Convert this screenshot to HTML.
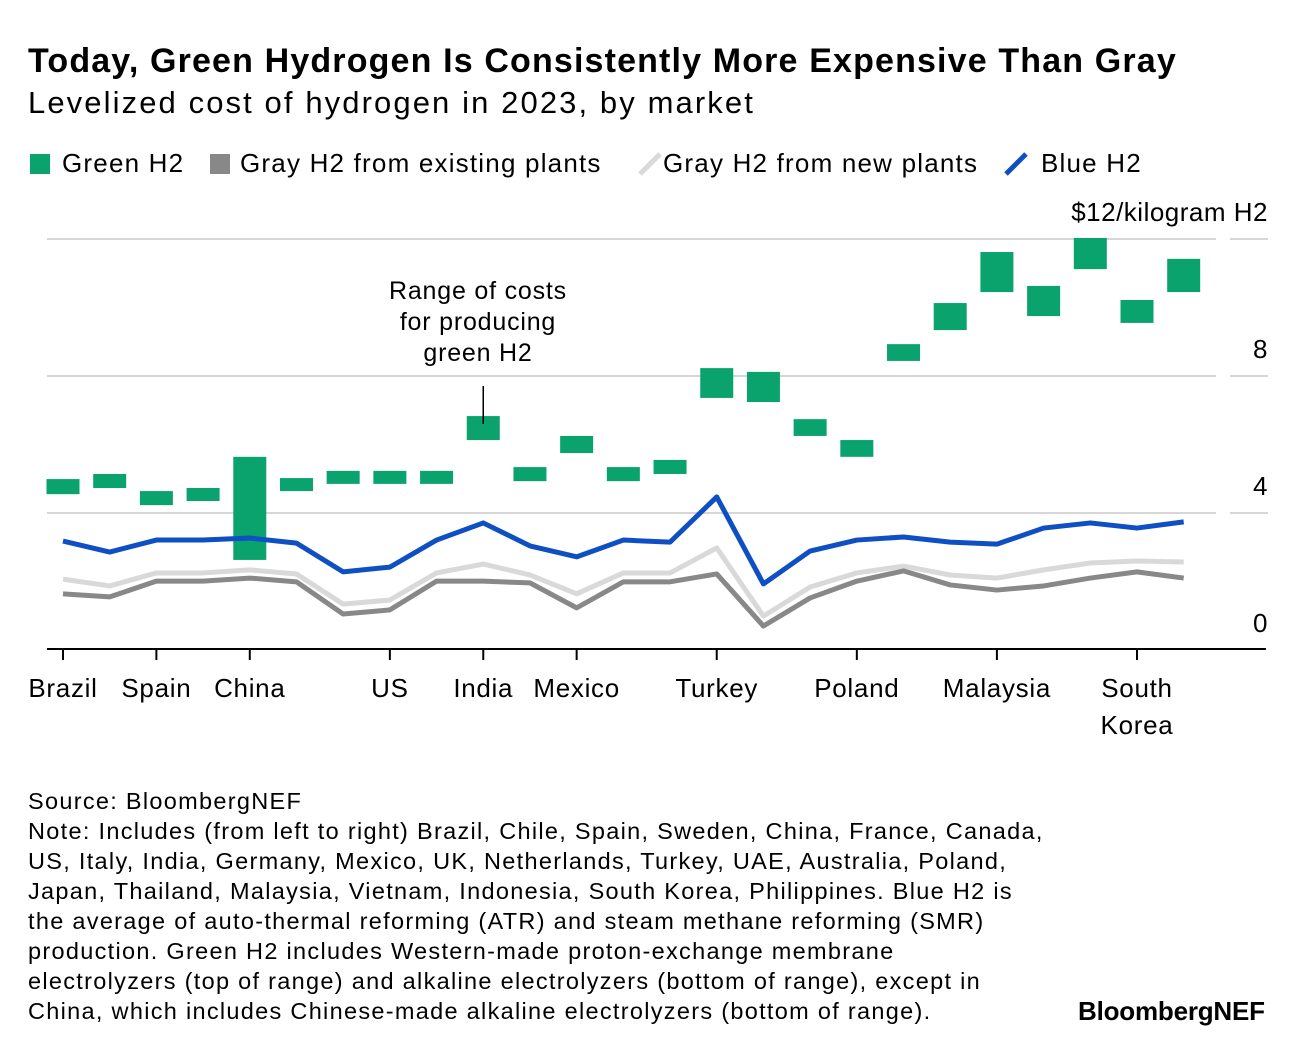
<!DOCTYPE html>
<html><head><meta charset="utf-8">
<style>
body{margin:0;background:#fff;font-family:"Liberation Sans",sans-serif;color:#000;}
#wrap{position:relative;width:1296px;height:1050px;overflow:hidden;}
.t{position:absolute;white-space:nowrap;}
</style></head>
<body><div id="wrap">
<div class="t" style="left:28px;top:42px;font-size:34px;font-weight:bold;letter-spacing:1.15px">Today, Green Hydrogen Is Consistently More Expensive Than Gray</div>
<div class="t" style="left:28px;top:85px;font-size:31px;letter-spacing:2.1px">Levelized cost of hydrogen in 2023, by market</div>
<div style="position:absolute;left:30px;top:148px;font-size:26px;height:34px;letter-spacing:1.2px">
 <span style="position:absolute;left:0;top:6px;width:20px;height:20px;background:#0aa36e"></span>
 <span class="t" style="left:32px;top:0">Green H2</span>
 <span style="position:absolute;left:180px;top:6px;width:20px;height:20px;background:#888"></span>
 <span class="t" style="left:210px;top:0">Gray H2 from existing plants</span>
 <svg style="position:absolute;left:606px;top:2px" width="28" height="28"><line x1="4" y1="24" x2="24" y2="4" stroke="#d9d9d9" stroke-width="5"/></svg>
 <span class="t" style="left:633px;top:0">Gray H2 from new plants</span>
 <svg style="position:absolute;left:972px;top:2px" width="28" height="28"><line x1="4" y1="24" x2="24" y2="4" stroke="#0f4fc4" stroke-width="5"/></svg>
 <span class="t" style="left:1011px;top:0">Blue H2</span>
</div>
<svg id="chart" width="1296" height="1050" style="position:absolute;left:0;top:0"></svg>
<div class="t" style="left:389px;top:276px;font-size:25px;text-align:center;line-height:31px;letter-spacing:0.8px">Range of costs<br>for producing<br>green H2</div>
<div class="t" style="left:28px;top:786px;font-size:23.5px;line-height:30px;letter-spacing:1.3px">Source: BloombergNEF<br>Note: Includes (from left to right) Brazil, Chile, Spain, Sweden, China, France, Canada,<br>US, Italy, India, Germany, Mexico, UK, Netherlands, Turkey, UAE, Australia, Poland,<br>Japan, Thailand, Malaysia, Vietnam, Indonesia, South Korea, Philippines. Blue H2 is<br>the average of auto-thermal reforming (ATR) and steam methane reforming (SMR)<br>production. Green H2 includes Western-made proton-exchange membrane<br>electrolyzers (top of range) and alkaline electrolyzers (bottom of range), except in<br>China, which includes Chinese-made alkaline electrolyzers (bottom of range).</div>
<div class="t" style="left:1078px;top:996px;font-size:26px;font-weight:bold;letter-spacing:-0.2px">BloombergNEF</div>
<script>
const categories=["Brazil","Chile","Spain","Sweden","China","France","Canada","US","Italy","India","Germany","Mexico","UK","Netherlands","Turkey","UAE","Australia","Poland","Japan","Thailand","Malaysia","Vietnam","Indonesia","South Korea","Philippines"];
const greenTop=[4.99,5.14,4.64,4.73,5.64,5.02,5.23,5.23,5.23,6.83,5.34,6.25,5.34,5.55,8.23,8.12,6.74,6.13,8.93,10.13,11.62,10.63,12.03,10.22,11.42];
const greenBottom=[4.55,4.73,4.23,4.35,2.63,4.64,4.85,4.85,4.85,6.13,4.93,5.75,4.93,5.14,7.36,7.24,6.25,5.64,8.44,9.34,10.45,9.75,11.12,9.55,10.45];
const blue=[3.18,2.86,3.21,3.21,3.27,3.12,2.28,2.42,3.21,3.71,3.04,2.72,3.21,3.15,4.47,1.93,2.89,3.21,3.30,3.15,3.09,3.56,3.71,3.56,3.74];
const grayNew=[2.07,1.87,2.25,2.25,2.34,2.22,1.34,1.46,2.25,2.51,2.19,1.64,2.25,2.25,2.98,0.99,1.84,2.25,2.45,2.19,2.10,2.34,2.54,2.60,2.57];
const grayExisting=[1.64,1.55,2.01,2.01,2.10,1.99,1.05,1.17,2.01,2.01,1.96,1.23,1.99,1.99,2.22,0.70,1.52,2.01,2.31,1.90,1.75,1.87,2.10,2.28,2.10];
const yTicks=[0,4,8,12];
const yTickLabels=["0","4","8","$12/kilogram H2"];
const xTickIdx=[0,2,4,7,9,11,14,17,20,23];
const xTickLabels=["Brazil","Spain","China","US","India","Mexico","Turkey","Poland","Malaysia","South|Korea"];
const NS="http://www.w3.org/2000/svg";
const svg=document.getElementById('chart');
const x=i=>63+i*(1137-63)/23;
const y=v=>650-v*34.25;
function mk(tag,a){const e=document.createElementNS(NS,tag);for(const k in a)e.setAttribute(k,a[k]);svg.appendChild(e);return e;}
yTicks.forEach((v,i)=>{
 if(v>0){const g=mk('line',{x1:47,x2:1216,y1:y(v),y2:y(v),stroke:'#d6d6d6','stroke-width':2});
 
 
 const g2=mk('line',{x1:1230,x2:1268,y1:y(v),y2:y(v),stroke:'#d6d6d6','stroke-width':2});
 
 }
 const t=mk('text',{x:1268,y:y(v)-18,'text-anchor':'end','font-size':26,'font-family':'Liberation Sans','letter-spacing':0.5});
 t.textContent=yTickLabels[i];
 
 
});
const ax=mk('line',{x1:47,x2:1266,y1:649,y2:649,stroke:'#000','stroke-width':2});


xTickIdx.forEach((ix,i)=>{
 const tk=mk('line',{x1:x(ix),x2:x(ix),y1:649,y2:660,stroke:'#000','stroke-width':2});
 
 
 xTickLabels[i].split('|').forEach((s,j)=>{
  const t=mk('text',{x:x(ix),y:697+j*37,'text-anchor':'middle','font-size':26,'font-family':'Liberation Sans','letter-spacing':0.7});
  t.textContent=s;
  
  
 });
});
categories.forEach((c,i)=>{
 const r=mk('rect',{x:x(i)-16.5,y:y(greenTop[i]),width:33,height:y(greenBottom[i])-y(greenTop[i]),fill:'#0aa36e'});
 
 
});
function line(arr,col,name){
 const p=mk('polyline',{points:arr.map((v,i)=>x(i)+','+y(v)).join(' '),fill:'none',stroke:col,'stroke-width':5,'stroke-linejoin':'round'});
 
 
}
line(grayNew,'#d9d9d9','gray-new-line');
line(grayExisting,'#888888','gray-existing-line');
line(blue,'#0f4fc4','blue-line');
const al=mk('line',{x1:x(9),x2:x(9),y1:386,y2:424,stroke:'#000','stroke-width':1.5});


</script>
</div></body></html>
